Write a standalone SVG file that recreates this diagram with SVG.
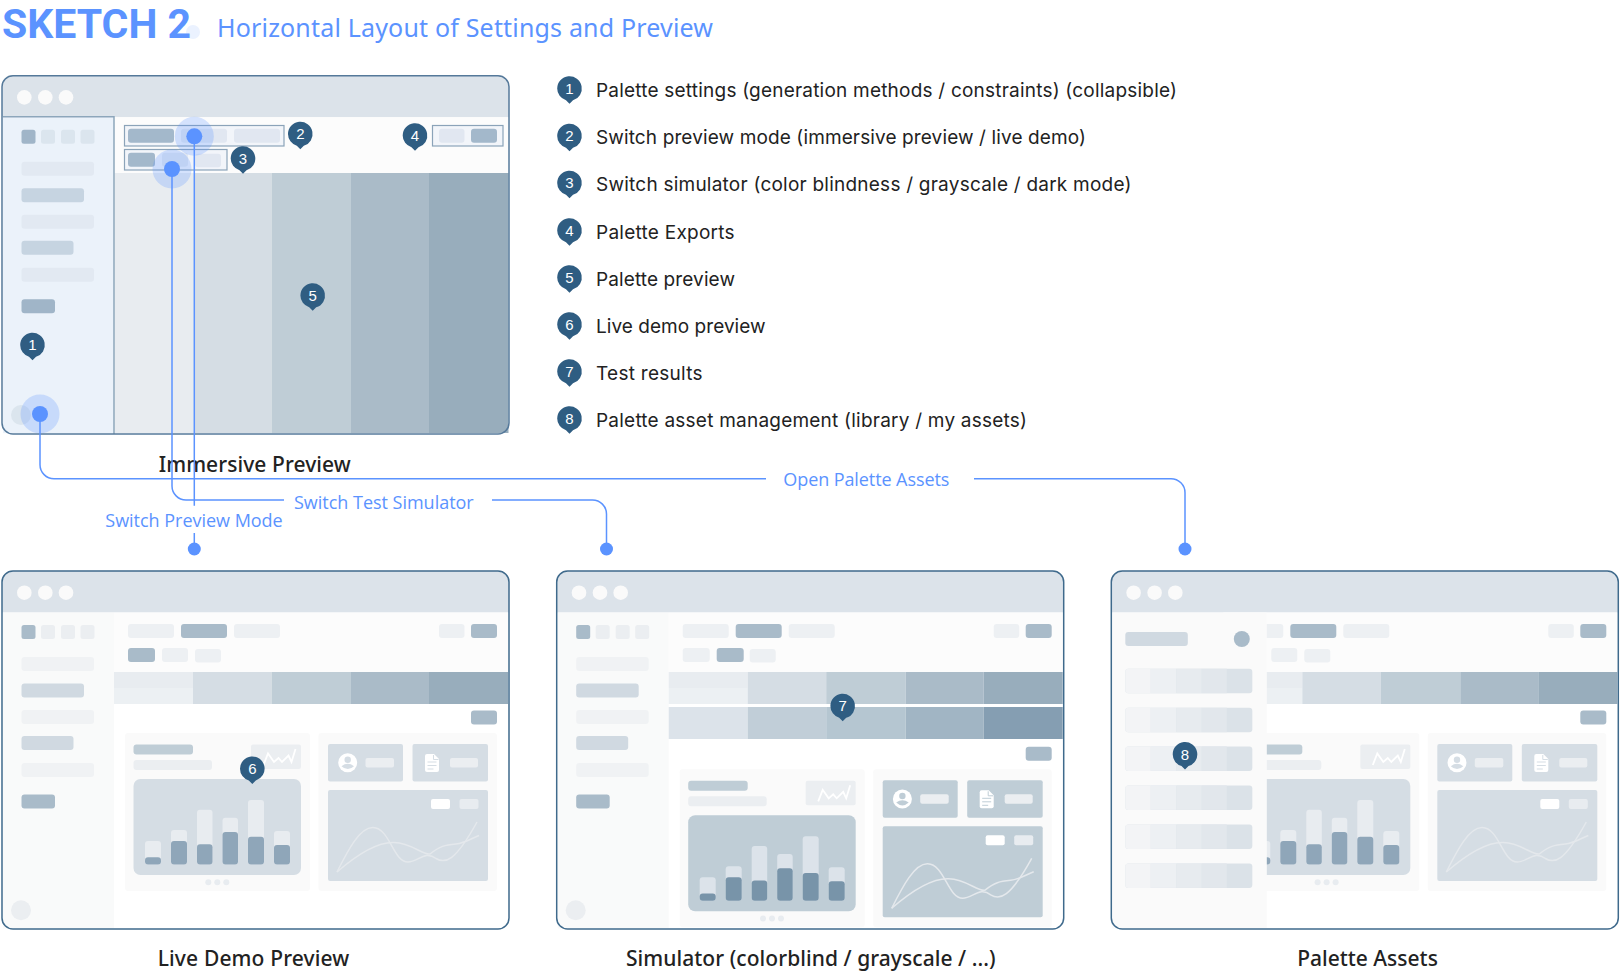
<svg xmlns="http://www.w3.org/2000/svg" width="1620" height="975" viewBox="0 0 1620 975">
<style>
text{font-family:"Open Sans","Noto Sans","Liberation Sans",sans-serif}
.frame{fill:none;stroke:#3f6a8c;stroke-width:1.5}
.bar{fill:#dce3ea}
.dot{fill:#fafafa}
.sb{fill:var(--sb,#f9fafa)}
.top{fill:var(--top,#fcfcfc)}
.sq1{fill:var(--a,#a9bbc9)}
.sq{fill:var(--b,#ebeef1)}
.ra{fill:var(--ra,#f0f2f4)}
.rb{fill:var(--rb,#d0d9e1)}
.tab{fill:#edf0f3}
.act{fill:#a9bbc9}
.panel{fill:#fafafa}
.box{fill:var(--box,#d5dde4)}
.bg{fill:var(--bg,#e8ecf0)}
.fg{fill:var(--fg,#8fa6b9)}
.soft{fill:#ebeef1}
.crv{fill:none;stroke:#e4e8ec;stroke-width:1.5}
.spk{fill:none;stroke:#fff;stroke-width:1.8}
.pin{fill:#2f5d82}
.num{fill:#fff;font-size:15px;text-anchor:middle;font-family:"Liberation Sans",Arial,sans-serif}
.leg{fill:#222;font-size:19px;font-family:"Inter","Liberation Sans",sans-serif}
.cap{fill:#222;font-size:21px;text-anchor:middle;font-weight:500;font-family:"Noto Sans","Open Sans",sans-serif}
.lbl{fill:#5b93ff;font-size:18px}
.cn{fill:none;stroke:#5b93ff;stroke-width:1.5}
.hi{fill:#5b93ff;opacity:.25}
.ho{fill:#5b93ff}
.c1{fill:#e8ecf0}.c1b{fill:#ecf0f3}.c2{fill:#d5dde4}.c3{fill:#bfcdd6}.c4{fill:#aabbc8}.c5{fill:#98adbc}
</style>
<defs>
<path id="pin" d="M-12.3 0A12.3 12.3 0 1 1 3.500 11.800L0 15.300 -3.500 11.800A12.300 12.300 0 0 1-12.300 0Z"/>
<clipPath id="w"><rect x="2" y="571" width="507" height="358" rx="11"/></clipPath>
<g id="chrome">
<rect x="2" y="571" width="507" height="358" rx="11" fill="#fff"/>
<path class="bar" d="M2 612.5V582a11 11 0 0 1 11-11H498a11 11 0 0 1 11 11V612.5Z"/>
<circle class="dot" cx="24.3" cy="592.7" r="7.3"/><circle class="dot" cx="45.3" cy="592.7" r="7.3"/><circle class="dot" cx="66" cy="592.7" r="7.3"/>
</g>
<g id="side">
<rect class="sq1" x="21.5" y="625" width="14" height="14" rx="2.5"/>
<rect class="sq" x="41" y="625" width="14" height="14" rx="2.5"/><rect class="sq" x="61" y="625" width="14" height="14" rx="2.5"/><rect class="sq" x="80.5" y="625" width="14" height="14" rx="2.5"/>
<rect class="ra" x="21.5" y="657" width="72.5" height="14" rx="3"/>
<rect class="rb" x="21.5" y="683.5" width="62.5" height="14" rx="3"/>
<rect class="ra" x="21.5" y="710" width="72.5" height="14" rx="3"/>
<rect class="rb" x="21.5" y="736" width="52" height="14" rx="3"/>
<rect class="ra" x="21.5" y="763" width="72.5" height="14" rx="3"/>
<rect class="sq1" x="21.5" y="794.5" width="33.5" height="14" rx="3"/>
<circle class="sq" cx="21" cy="910.3" r="10"/>
</g>
<g id="strip">
<rect class="c1" x="0" y="0" width="79" height="16"/><rect class="c1b" x="0" y="16" width="79" height="16"/>
<rect class="c2" x="79" y="0" width="78.5" height="32"/><rect class="c3" x="157.5" y="0" width="79.5" height="32"/><rect class="c4" x="237" y="0" width="78" height="32"/><rect class="c5" x="315" y="0" width="79" height="32"/>
</g>
<g id="panels">
<rect class="act" x="471" y="710.5" width="26" height="14" rx="3"/>
<rect class="panel" x="125" y="733" width="185" height="158" rx="3"/>
<rect class="panel" x="318.5" y="733" width="178.5" height="158" rx="3"/>
<rect x="133.5" y="744.5" width="59.5" height="10" rx="3" fill="#bfcdd6"/>
<rect class="soft" x="133.5" y="760" width="78.5" height="10" rx="3"/>
<rect class="soft" x="251" y="744.5" width="50" height="24.5" rx="2"/>
<polyline class="spk" points="263.5,765 268,753.5 274,762 278.5,758 282,762 288.5,755.5 291.5,762 295.5,749"/>
<rect class="box" x="133.5" y="779" width="167.5" height="96" rx="7"/>
<g class="bg"><rect x="145" y="841" width="16" height="23.5" rx="3"/><rect x="171" y="830" width="16" height="34.5" rx="3"/><rect x="197" y="809.7" width="15.5" height="54.8" rx="3"/><rect x="222.5" y="817.7" width="15.5" height="46.8" rx="3"/><rect x="248" y="800" width="16" height="64.5" rx="3"/><rect x="274" y="831" width="16" height="33.5" rx="3"/></g>
<g class="fg"><rect x="145" y="857.3" width="16" height="7.2" rx="3"/><rect x="171" y="841" width="16" height="23.5" rx="3"/><rect x="197" y="844.3" width="15.5" height="20.2" rx="3"/><rect x="222.5" y="832" width="15.5" height="32.5" rx="3"/><rect x="248" y="836.7" width="16" height="27.8" rx="3"/><rect x="274" y="845" width="16" height="19.5" rx="3"/></g>
<circle class="c1" cx="208.3" cy="882.3" r="3"/><circle class="c1" cx="217.3" cy="882.3" r="3"/><circle class="c1" cx="226.3" cy="882.3" r="3"/>
<rect class="box" x="328" y="744" width="75" height="37.5" rx="2"/>
<rect class="box" x="412.5" y="744" width="75.5" height="37.5" rx="2"/>
<circle cx="347.7" cy="762.7" r="9.5" fill="#fff"/><circle class="box" cx="347.7" cy="759.7" r="3.2"/><path class="box" d="M341.5 766.2Q347.7 761.5 354 766.2Q347.7 772 341.5 766.2Z"/>
<rect class="soft" x="365.5" y="758" width="28.5" height="9.5" rx="2"/>
<path fill="#fff" d="M425 756a2 2 0 0 1 2-2h7l5 5v11a2 2 0 0 1-2 2h-10a2 2 0 0 1-2-2Z"/><path d="M427.5 762h9M427.5 765.5h9M427.5 769h6M433.5 755v4.500h5" fill="none" stroke="var(--box,#d5dde4)" stroke-width="1"/>
<rect class="soft" x="450" y="758" width="28" height="9.5" rx="2"/>
<rect class="box" x="328" y="790" width="160" height="91" rx="2"/>
<rect x="431" y="799" width="19" height="10" rx="2" fill="#fff"/><rect class="c1" x="459.500" y="799" width="19" height="10" rx="2"/>
<path class="crv" d="M337 872C348 850 360 827 373 827.500C390 828 393 862 408 862C418 862 425 850 436 858.500C445 864 455 862 477 822"/>
<path class="crv" d="M337 872C360 852 380 842 394 842.500C412 843 422 855 430 854C440 846 445 845 456 844C465 843 470 839 479 835.500"/>
</g>
<g id="tabsR"><rect class="tab" x="128" y="624" width="46" height="14" rx="3"/><rect class="act" x="181" y="624" width="46" height="14" rx="3"/><rect class="tab" x="234" y="624" width="46" height="14" rx="3"/><rect class="tab" x="439" y="624" width="25.500" height="14" rx="3"/><rect class="act" x="471" y="624" width="26" height="14" rx="3"/></g>
</defs>

<g id="title">
<circle cx="193" cy="32" r="7" fill="#ebf2ff"/>
<text x="2" y="38" style="font-family:Roboto,'Liberation Sans',sans-serif;font-weight:700;font-size:41px;fill:#5b93ff">SKETCH 2</text>
<text x="217" y="37" textLength="496" style="font-size:25px;fill:#5b93ff;font-family:'Noto Sans','Open Sans',sans-serif">Horizontal Layout of Settings and Preview</text>
</g>

<g id="window-immersive">
<g transform="translate(0,-495.300)">
<use href="#chrome"/>
<rect x="3" y="612.500" width="111" height="316" fill="#ebf2fa"/>
<rect x="114" y="612.500" width="394.500" height="56" fill="#fcfcfc"/>
<g style="--a:#a0b5c8;--b:#dbe5ee;--ra:#e2e9f2;--rb:#c6d4e1"><use href="#side"/></g>
<rect x="114.500" y="668.300" width="80.500" height="260" class="c1"/><rect x="195" y="668.300" width="76.500" height="260" class="c2"/><rect x="271.500" y="668.300" width="79.500" height="260" class="c3"/><rect x="351" y="668.300" width="78" height="260" class="c4"/><rect x="429" y="668.300" width="79.500" height="260" class="c5"/>
<rect x="124.500" y="620.800" width="159.500" height="20.500" fill="#f2f5fa" stroke="#8ba3b9" stroke-width="1.200"/>
<rect x="124.500" y="644.800" width="102.500" height="20.500" fill="#f2f5fa" stroke="#8ba3b9" stroke-width="1.200"/>
<rect x="432.500" y="620.800" width="70.500" height="20.500" fill="#f2f5fa" stroke="#8ba3b9" stroke-width="1.200"/>
<rect x="128" y="624" width="46" height="14" rx="3" fill="#a3b8cb"/><rect x="181" y="624" width="46" height="14" rx="3" fill="#e1e7f1"/><rect x="234" y="624" width="46" height="14" rx="3" fill="#e1e7f1"/>
<rect x="128" y="648" width="27" height="14" rx="3" fill="#a3b8cb"/><rect x="162" y="648" width="26" height="14" rx="3" fill="#e1e7f1"/><rect x="195" y="649" width="26" height="13.500" rx="3" fill="#e1e7f1"/>
<rect x="439" y="624" width="25.500" height="14" rx="3" fill="#e1e7f1"/><rect x="471" y="624" width="26" height="14" rx="3" fill="#a3b8cb"/>
</g>
<path d="M3 116.800H114V434" fill="none" stroke="#8da6bb" stroke-width="1.500"/>
<rect x="2" y="75.700" width="507" height="358.300" rx="11" fill="none" stroke="#55799a" stroke-width="1.500"/>
<text class="cap" x="254.700" y="472" textLength="192">Immersive Preview</text>
</g>

<g id="window-live">
<use href="#chrome"/>
<rect class="sb" x="3" y="612.500" width="111" height="316"/>
<rect class="top" x="114" y="612.500" width="394" height="59.500"/>
<use href="#side"/><use href="#tabsR"/>
<rect class="act" x="128" y="648" width="27" height="14" rx="3"/><rect class="tab" x="162" y="648" width="26" height="14" rx="3"/><rect class="tab" x="195" y="649" width="26" height="13.500" rx="3"/>
<use href="#strip" x="114" y="672"/>
<use href="#panels"/>
<rect class="frame" x="2" y="571" width="507" height="358" rx="11"/>
<text class="cap" x="253.500" y="966" textLength="191.600">Live Demo Preview</text>
</g>

<g id="window-simulator" transform="translate(554.700,0)">
<use href="#chrome"/>
<rect class="sb" x="3" y="612.500" width="111" height="316"/>
<rect class="top" x="114" y="612.500" width="394" height="59.500"/>
<use href="#side"/><use href="#tabsR"/>
<rect class="tab" x="128" y="648" width="27" height="14" rx="3"/><rect class="act" x="162" y="648" width="27" height="14" rx="3"/><rect class="tab" x="195" y="649" width="26" height="13.500" rx="3"/>
<use href="#strip" x="114" y="672"/>
<rect x="114" y="707" width="79" height="32" fill="#dce3ea"/><rect x="193" y="707" width="78.500" height="32" fill="#c1ced8"/><rect x="271.500" y="707" width="79.500" height="32" fill="#b5c6d1"/><rect x="351" y="707" width="78" height="32" fill="#a1b5c4"/><rect x="429" y="707" width="79" height="32" fill="#859eb2"/>
<g clip-path="url(#w)"><g transform="translate(0,36.300)" style="--box:#bfcdd6;--bg:#dce3ea;--fg:#7894a9"><use href="#panels"/></g></g>
<rect class="frame" x="2" y="571" width="507" height="358" rx="11"/>
<text class="cap" x="256.100" y="966" textLength="369.700">Simulator (colorblind / grayscale / ...)</text>
</g>

<g id="window-assets" transform="translate(1109.300,0)">
<use href="#chrome"/>
<rect class="top" x="114" y="612.500" width="394" height="59.500"/>
<use href="#tabsR"/>
<rect class="act" x="128" y="648" width="27" height="14" rx="3"/><rect class="tab" x="162" y="648" width="26" height="14" rx="3"/><rect class="tab" x="195" y="649" width="26" height="13.500" rx="3"/>
<use href="#strip" x="114" y="672"/>
<use href="#panels"/>
<rect x="3" y="612.500" width="154.500" height="316" fill="#fafafa"/>
<rect class="rb" x="16" y="632" width="62.500" height="14" rx="3"/>
<circle class="act" cx="132.500" cy="639" r="8"/>
<g id="swatches">
<g id="sw"><rect x="16" y="668.700" width="127" height="24.500" rx="3" fill="#dbe2e8"/><path d="M19 668.700H41.500V693.200H19a3 3 0 0 1-3-3V671.700a3 3 0 0 1 3-3Z" fill="#f3f4f6"/><rect x="41.500" y="668.700" width="25.500" height="24.500" fill="#edf0f3"/><rect x="67" y="668.700" width="25.500" height="24.500" fill="#e7ebef"/><rect x="92.500" y="668.700" width="25" height="24.500" fill="#e2e7ec"/></g>
<use href="#sw" y="39"/><use href="#sw" y="77.700"/><use href="#sw" y="116.700"/><use href="#sw" y="155.700"/><use href="#sw" y="194.700"/>
</g>
<rect class="frame" x="2" y="571" width="507" height="358" rx="11"/>
<text class="cap" x="258.200" y="966" textLength="140.700">Palette Assets</text>
</g>

<g id="connectors">
<circle class="hi" cx="194.300" cy="136.300" r="19.500"/><circle class="hi" cx="172" cy="169" r="19.500"/><circle class="hi" cx="40" cy="414" r="19.500"/>
<path class="cn" d="M194.300 136V505.700M194.300 533V549"/>
<path class="cn" d="M172 169V486a14 14 0 0 0 14 14H284M492 500H592.500a14 14 0 0 1 14 14V549"/>
<path class="cn" d="M40 414V464.700a14 14 0 0 0 14 14H766M974 478.700H1171a14 14 0 0 1 14 14V549"/>
<circle class="ho" cx="194.300" cy="136.300" r="8"/><circle class="ho" cx="172" cy="169" r="8"/><circle class="ho" cx="40" cy="414" r="8"/>
<circle class="ho" cx="194.300" cy="549" r="6.500"/><circle class="ho" cx="606.500" cy="549" r="6.500"/><circle class="ho" cx="1185" cy="549" r="6.500"/>
<text class="lbl" x="105.300" y="527" textLength="177.400">Switch Preview Mode</text>
<text class="lbl" x="294" y="509" textLength="179.700">Switch Test Simulator</text>
<text class="lbl" x="783.300" y="486" textLength="166">Open Palette Assets</text>
</g>

<g id="pins">
<g id="pin-1" transform="translate(32.500,345)"><use href="#pin" class="pin"/><text class="num" y="5.200">1</text></g>
<g id="pin-2" transform="translate(300.300,134)"><use href="#pin" class="pin"/><text class="num" y="5.200">2</text></g>
<g id="pin-3" transform="translate(243,158.500)"><use href="#pin" class="pin"/><text class="num" y="5.200">3</text></g>
<g id="pin-4" transform="translate(415,135.500)"><use href="#pin" class="pin"/><text class="num" y="5.200">4</text></g>
<g id="pin-5" transform="translate(312.700,295.500)"><use href="#pin" class="pin"/><text class="num" y="5.200">5</text></g>
<g id="pin-6" transform="translate(252.300,768.700)"><use href="#pin" class="pin"/><text class="num" y="5.200">6</text></g>
<g id="pin-7" transform="translate(842.700,706)"><use href="#pin" class="pin"/><text class="num" y="5.200">7</text></g>
<g id="pin-8" transform="translate(1185,754.300)"><use href="#pin" class="pin"/><text class="num" y="5.200">8</text></g>
</g>

<g id="legend">
<g id="leg-1" transform="translate(569.500,88.500)"><use href="#pin" class="pin"/><text class="num" y="5.200">1</text><text class="leg" x="26.500" y="8.300" textLength="581">Palette settings (generation methods / constraints) (collapsible)</text></g>
<g id="leg-2" transform="translate(569.500,136)"><use href="#pin" class="pin"/><text class="num" y="5.200">2</text><text class="leg" x="26.500" y="8.300" textLength="490">Switch preview mode (immersive preview / live demo)</text></g>
<g id="leg-3" transform="translate(569.500,183)"><use href="#pin" class="pin"/><text class="num" y="5.200">3</text><text class="leg" x="26.500" y="8.300" textLength="535.500">Switch simulator (color blindness / grayscale / dark mode)</text></g>
<g id="leg-4" transform="translate(569.500,230.500)"><use href="#pin" class="pin"/><text class="num" y="5.200">4</text><text class="leg" x="26.500" y="8.300" textLength="138.600">Palette Exports</text></g>
<g id="leg-5" transform="translate(569.500,277.500)"><use href="#pin" class="pin"/><text class="num" y="5.200">5</text><text class="leg" x="26.500" y="8.300" textLength="139">Palette preview</text></g>
<g id="leg-6" transform="translate(569.500,324.500)"><use href="#pin" class="pin"/><text class="num" y="5.200">6</text><text class="leg" x="26.500" y="8.300" textLength="169.600">Live demo preview</text></g>
<g id="leg-7" transform="translate(569.500,371.500)"><use href="#pin" class="pin"/><text class="num" y="5.200">7</text><text class="leg" x="26.500" y="8.300" textLength="106.600">Test results</text></g>
<g id="leg-8" transform="translate(569.500,418.500)"><use href="#pin" class="pin"/><text class="num" y="5.200">8</text><text class="leg" x="26.500" y="8.300" textLength="431">Palette asset management (library / my assets)</text></g>
</g>
</svg>
